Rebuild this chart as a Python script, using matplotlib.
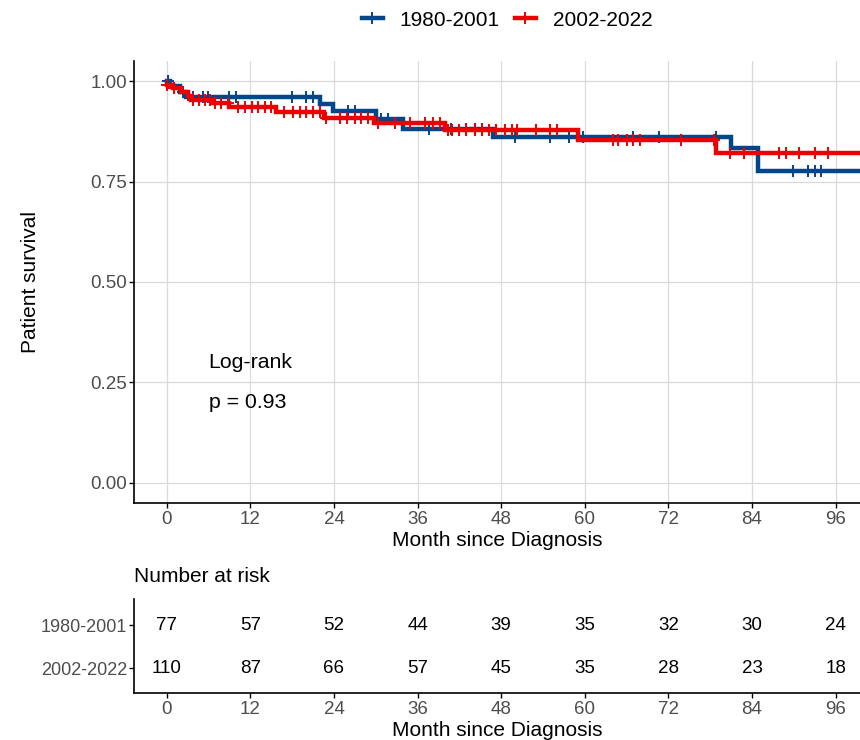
import numpy as np
import matplotlib
matplotlib.use("Agg")
import matplotlib.pyplot as plt
from matplotlib.lines import Line2D

plt.rcParams["font.family"] = ["Liberation Sans", "DejaVu Sans"]

# --- data ---
groups = ["1980-2001", "2002-2022"]
colors = ["#00468B", "#ED0000"]

blue_time = [0, 0.4, 1.9, 2.8, 22.0, 23.9, 30.1, 33.9, 46.8, 81.0, 84.8, 100]
blue_surv = [1.0, 0.987, 0.974, 0.961, 0.942, 0.925, 0.905, 0.882, 0.862, 0.833, 0.777, 0.777]
blue_cens = [0.2, 2.3, 3.8, 5.2, 5.9, 9.0, 10.0, 18.0, 20.0, 21.0, 26.0, 27.0, 30.8, 31.7,
             37.7, 40.8, 43.0, 44.2, 45.2, 50.0, 55.0, 57.8, 59.7, 66.9, 70.7, 78.9,
             89.9, 92.0, 93.0, 93.9]

red_time = [0, 0.9, 2.1, 3.1, 3.5, 6.6, 9.0, 15.7, 22.6, 29.8, 39.9, 59.0, 78.8, 100]
red_surv = [0.991, 0.982, 0.973, 0.964, 0.954, 0.945, 0.935, 0.924, 0.909, 0.895, 0.879,
            0.853, 0.822, 0.822]
red_cens = [0.1, 1.1, 3.8, 4.7, 5.5, 6.2, 6.9, 7.8, 8.8, 10.2, 11.2, 12.2, 13.1, 14.1, 15.0,
            16.9, 18.1, 19.1, 20.0, 21.0, 22.0, 22.9, 24.8, 25.8, 27.0, 27.9, 28.9, 30.3,
            32.7, 34.9, 37.0, 38.2, 39.2, 40.3, 41.0, 42.0, 43.0, 44.2, 45.3, 46.3, 47.3,
            48.5, 49.5, 50.2, 53.0, 55.0, 56.0, 64.0, 64.7, 66.0, 66.9, 67.9, 73.8, 78.6,
            80.8, 82.9, 87.9, 88.9, 90.8, 93.0, 94.9]

risk_times = [0, 12, 24, 36, 48, 60, 72, 84, 96]
risk_1980 = [77, 57, 52, 44, 39, 35, 32, 30, 24]
risk_2002 = [110, 87, 66, 57, 45, 35, 28, 23, 18]

x_ticks = [0, 12, 24, 36, 48, 60, 72, 84, 96]
y_ticks = [0.0, 0.25, 0.5, 0.75, 1.0]

GRAY = "#4D4D4D"
W, H = 860, 740


def _step_at(times, surv, t):
    idx = np.searchsorted(times, t, side="right") - 1
    return np.asarray(surv)[idx]


def _style(ax):
    for s in ["top", "right"]:
        ax.spines[s].set_visible(False)
    for s in ["left", "bottom"]:
        ax.spines[s].set_linewidth(1.2)
    ax.tick_params(colors="black", labelcolor=GRAY, length=3.6, width=1.0, labelsize=13.5)
    ax.tick_params(axis="x", pad=2.5)
    ax.tick_params(axis="y", pad=1.5)


def _xlabel_at(ax, ypix_from_axis, height_px):
    # put x title centred a fixed number of pixels under the axis line
    ax.set_xlabel("Month since Diagnosis", fontsize=15)
    ax.xaxis.set_label_coords(0.5, -ypix_from_axis / height_px)
    ax.xaxis.label.set_verticalalignment("center")


fig = plt.figure(figsize=(W / 100, H / 100), dpi=100)

# main KM panel
ax = fig.add_axes([134 / W, 1 - 503 / H, 726 / W, 442 / H])
ax.set_xlim(-4.7, 99.5)
ax.set_ylim(-0.05, 1.05)
ax.grid(True, color="#D9D9D9", lw=0.9)
ax.set_axisbelow(True)

curves = [(blue_time, blue_surv, blue_cens), (red_time, red_surv, red_cens)]
for (t, s, c), col in zip(curves, colors):
    ax.step(t, s, where="post", color=col, lw=3.2, solid_joinstyle="miter")
    ax.plot(c, _step_at(t, s, c), ls="none", marker="+", ms=8.5, mew=1.4, color=col)

ax.set_xticks(x_ticks)
ax.set_yticks(y_ticks)
ax.set_yticklabels(["%.2f" % v for v in y_ticks])
_style(ax)
_xlabel_at(ax, 38, 442)
ax.set_ylabel("Patient survival", fontsize=15)
ax.yaxis.set_label_coords((30 - 134) / 726, 0.5)
ax.yaxis.label.set_verticalalignment("center")

ax.text(6, 0.30, "Log-rank", fontsize=15.3, va="center", ha="left")
ax.text(6, 0.20, "p = 0.93", fontsize=15.3, va="center", ha="left")

handles = [Line2D([], [], color=col, lw=3.2, marker="+", ms=8.5, mew=1.4) for col in colors]
fig.legend(handles, groups, loc="center", bbox_to_anchor=(507 / W, 1 - 20 / H), ncol=2,
           frameon=False, fontsize=15, handlelength=1.0, handletextpad=0.8,
           columnspacing=0.75)

# risk table
rt = fig.add_axes([134 / W, 1 - 693 / H, 726 / W, 94 / H])
rt.set_xlim(-4.7, 99.5)
rt.set_ylim(0.42, 2.61)
for tx, n1, n2 in zip(risk_times, risk_1980, risk_2002):
    rt.text(tx, 2, str(n1), ha="center", va="center", fontsize=13.5)
    rt.text(tx, 1, str(n2), ha="center", va="center", fontsize=13.5)
rt.set_xticks(x_ticks)
rt.set_yticks([2, 1])
rt.set_yticklabels(groups)
_style(rt)
rt.tick_params(axis="y", labelsize=13)
_xlabel_at(rt, 38, 94)
fig.text(134 / W, 1 - 577 / H, "Number at risk", fontsize=15, va="center", ha="left")

fig.savefig("out.png", dpi=100)
